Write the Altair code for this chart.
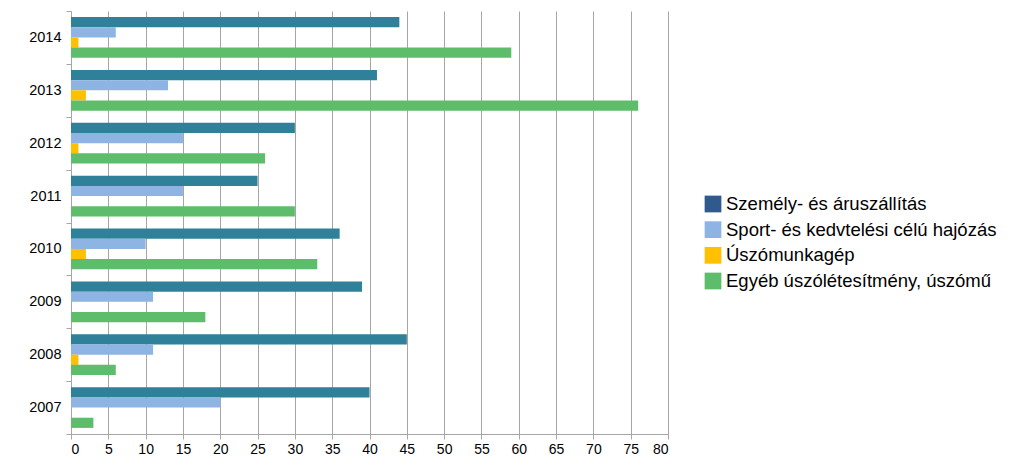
import altair as alt
import pandas as pd

years = ["2014", "2013", "2012", "2011", "2010", "2009", "2008", "2007"]
series = [
    "Személy- és áruszállítás",
    "Sport- és kedvtelési célú hajózás",
    "Úszómunkagép",
    "Egyéb úszólétesítmény, úszómű",
]
szemely = [44, 41, 30, 25, 36, 39, 45, 40]
sport = [6, 13, 15, 15, 10, 11, 11, 20]
munkagep = [1, 2, 1, 0, 2, 0, 1, 0]
egyeb = [59, 76, 26, 30, 33, 18, 6, 3]

bar_colors = ["#2F8099", "#8EB4E3", "#FFC000", "#5EBD6A"]
legend_colors = ["#305A8E", "#8EB4E3", "#FFC000", "#5EBD6A"]

rows = []
for vals, s in zip([szemely, sport, munkagep, egyeb], series):
    for y, v in zip(years, vals):
        rows.append({"year": y, "series": s, "value": v})
df = pd.DataFrame(rows)
legend_df = pd.DataFrame({"series": series, "lcolor": legend_colors})

FONT = "Liberation Sans"

bars = alt.Chart(df).mark_bar().encode(
    x=alt.X(
        "value:Q",
        scale=alt.Scale(domain=[0, 80], nice=False),
        axis=alt.Axis(
            values=list(range(0, 81, 5)),
            title=None,
            grid=True,
            gridColor="#A6A6A6",
            domainColor="#A6A6A6",
            tickColor="#A6A6A6",
            tickSize=5,
            labelFontSize=14,
            labelColor="#000000",
            labelFont=FONT,
            labelPadding=3,
            labelOverlap=False,
        ),
    ),
    y=alt.Y(
        "year:N",
        sort=years,
        scale=alt.Scale(paddingInner=0, paddingOuter=0),
        axis=alt.Axis(
            title=None,
            grid=False,
            domainColor="#A6A6A6",
            tickColor="#A6A6A6",
            tickBand="extent",
            tickSize=5,
            labelFontSize=14.5,
            labelColor="#000000",
            labelFont=FONT,
            labelPadding=5,
        ),
    ),
    yOffset=alt.YOffset(
        "series:N",
        sort=series,
        scale=alt.Scale(domain=series, paddingInner=0, paddingOuter=0.6),
    ),
    color=alt.Color(
        "series:N",
        sort=series,
        scale=alt.Scale(domain=series, range=bar_colors),
        legend=None,
    ),
).properties(width=597, height=423)

legend_y = alt.Y(
    "series:N",
    sort=series,
    axis=None,
    scale=alt.Scale(type="point", domain=series, range=[193, 270], padding=0),
)
legend_sq = alt.Chart(legend_df).mark_square(size=280, opacity=1).encode(
    x=alt.value(32),
    y=legend_y,
    color=alt.Color("lcolor:N", scale=None, legend=None),
)
legend_txt = alt.Chart(legend_df).mark_text(
    align="left", baseline="middle", font=FONT, fontSize=18.5, color="#000000"
).encode(
    x=alt.value(45),
    y=legend_y,
    text="series:N",
)
legend = alt.layer(legend_sq, legend_txt).properties(width=300, height=423)

chart = (
    alt.hconcat(bars, legend, spacing=12)
    .properties(padding={"left": 20, "top": -5, "right": 0, "bottom": 0}, background="#FFFFFF")
    .configure_view(strokeWidth=0, stroke="transparent")
)

chart.save("out.html", embed_options={"renderer": "svg", "actions": False})
